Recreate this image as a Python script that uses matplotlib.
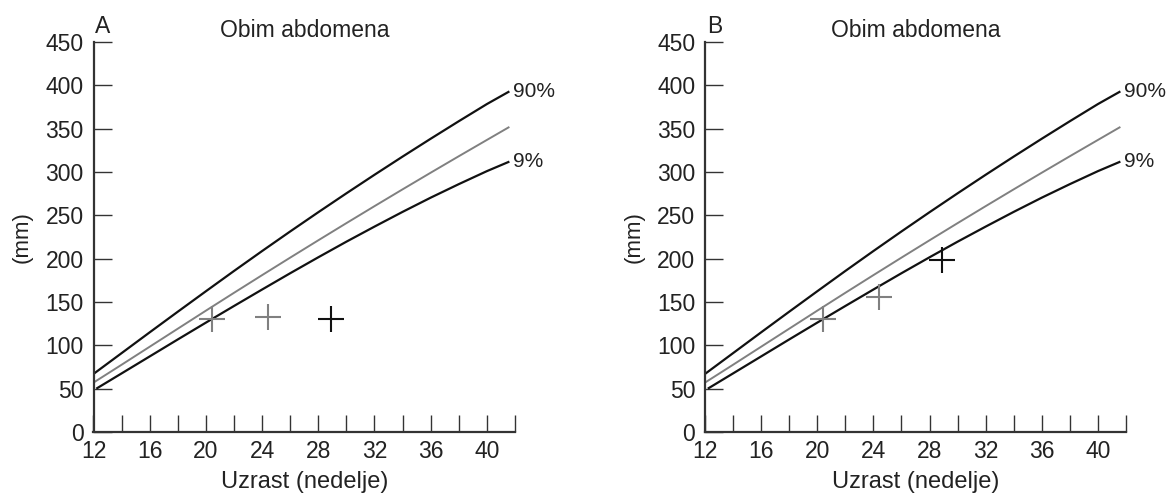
import matplotlib
matplotlib.use("Agg")
import matplotlib.pyplot as plt
from matplotlib.ticker import MultipleLocator, FixedLocator

plt.rcParams['font.family'] = ['Liberation Sans', 'DejaVu Sans']

# Percentile curves (gestational week -> abdominal circumference, mm)
weeks = [12, 14, 16, 18, 20, 22, 24, 26, 28, 30, 32, 34, 36, 38, 40, 41.6]
p90 = [67, 91, 115, 138.8, 162.4, 185.8, 208.8, 231.4, 253.6, 275.4, 296.8, 317.8, 338.4, 358.6, 378.4, 393]
p50 = [57, 77.6, 98.4, 119.2, 140, 160.6, 181, 201.2, 221.2, 241, 260.6, 280, 299.2, 318.2, 337, 352]
weeks_p9 = [12.2, 14, 16, 18, 20, 22, 24, 26, 28, 30, 32, 34, 36, 38, 40, 41.6]
p9 = [50, 67.6, 87.2, 106.8, 126.2, 145.4, 164.4, 183.2, 201.6, 219.6, 237, 254, 270.4, 286, 301, 312]

# Measurements
meas_weeks = [20.4, 24.4, 28.9]
meas_A = [130.5, 133, 130.5]
meas_B = [130.5, 156, 198.6]
meas_colors = ['#808080', '#808080', '#111111']

panel_letters = ['A', 'B']
title = 'Obim abdomena'
xlabel = 'Uzrast (nedelje)'
ylabel = '(mm)'
xticks = [12, 16, 20, 24, 28, 32, 36, 40]
yticks = [0, 50, 100, 150, 200, 250, 300, 350, 400, 450]

W, H = 1169, 495
fig = plt.figure(figsize=(W / 100, H / 100), dpi=100)

axes_px = [(93.5, 515), (705, 1126)]
bottom_px, top_px = 432, 42
ax_h = bottom_px - top_px

spine_col = '#333333'
txt_col = '#222222'
for (l, r), letter, meas in zip(axes_px, panel_letters, [meas_A, meas_B]):
    ax = fig.add_axes([l / W, (H - bottom_px) / H, (r - l) / W, ax_h / H])
    ax.set_xlim(12, 42)
    ax.set_ylim(0, 450)
    for s in ['top', 'right']:
        ax.spines[s].set_visible(False)
    for s in ['left', 'bottom']:
        ax.spines[s].set_linewidth(1.6)
        ax.spines[s].set_color(spine_col)
    ax.plot(weeks, p90, color='#111111', lw=1.6, solid_capstyle='butt')
    ax.plot(weeks, p50, color='#808080', lw=1.4, solid_capstyle='butt')
    ax.plot(weeks_p9, p9, color='#111111', lw=1.6, solid_capstyle='butt')
    for x, y, c in zip(meas_weeks, meas, meas_colors):
        ax.plot([x], [y], marker='+', markersize=19, mew=1.5, color=c, ls='none')
    ax.text(41.85, p90[-1], '90%', fontsize=15, va='center', ha='left', color=txt_col)
    ax.text(41.85, p9[-1], '9%', fontsize=15, va='center', ha='left', color=txt_col)

    ax.xaxis.set_major_locator(FixedLocator(xticks))
    ax.xaxis.set_minor_locator(MultipleLocator(2))
    ax.yaxis.set_major_locator(FixedLocator(yticks))
    ax.tick_params(axis='x', which='major', direction='in', length=12.5, width=1.0,
                   color=spine_col, labelsize=16.5, pad=6, labelcolor=txt_col)
    ax.tick_params(axis='x', which='minor', direction='in', length=12.5, width=1.0,
                   color=spine_col)
    ax.tick_params(axis='y', direction='in', length=13, width=1.0, color=spine_col,
                   labelsize=16.5, pad=7, labelcolor=txt_col)
    ax.set_title(title, fontsize=16.5, pad=1.5, color=txt_col)
    ax.set_xlabel(xlabel, fontsize=17, color=txt_col, va='top')
    ax.xaxis.set_label_coords(0.5, (bottom_px - 471) / ax_h)
    ax.set_ylabel(ylabel, fontsize=16, labelpad=9, color=txt_col)
    ax.text(0.0225, 1 + 9 / ax_h, letter, transform=ax.transAxes, fontsize=16.5,
            ha='center', va='baseline', color=txt_col)

fig.savefig('out.png', dpi=100)
